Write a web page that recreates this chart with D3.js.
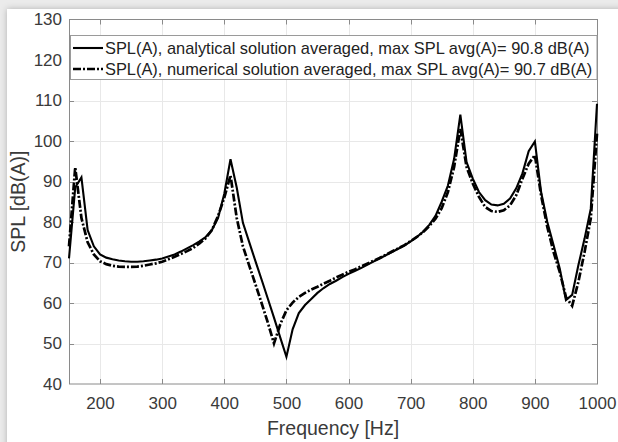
<!DOCTYPE html>
<html>
<head>
<meta charset="utf-8">
<script src="https://cdn.jsdelivr.net/npm/d3@7"></script>
<style>
  html, body { margin: 0; padding: 0; background: #eeeeee; }
  svg { display: block; }
</style>
</head>
<body>
<svg id="chart"></svg>
<script>
// Frequency axis samples [Hz]
const freqs = [
  150, 160, 170, 180, 190, 200, 210, 220, 230, 240,
  250, 260, 270, 280, 290, 300, 310, 320, 330, 340,
  350, 360, 370, 380, 390, 400, 410, 420, 430, 440,
  450, 460, 470, 480, 490, 500, 510, 520, 530, 540,
  550, 560, 570, 580, 590, 600, 610, 620, 630, 640,
  650, 660, 670, 680, 690, 700, 710, 720, 730, 740,
  750, 760, 770, 780, 790, 800, 810, 820, 830, 840,
  850, 860, 870, 880, 890, 900, 910, 920, 930, 940,
  950, 960, 970, 980, 990, 1000
];

// SPL(A), analytical solution averaged [dB(A)]
const splAnalytical = [
  71.0, 88.5, 91.0, 78.0, 74.0, 72.0, 71.2, 70.8, 70.5, 70.3,
  70.2, 70.2, 70.3, 70.5, 70.7, 71.0, 71.5, 72.0, 72.7, 73.5,
  74.3, 75.2, 76.3, 78.0, 81.0, 87.0, 95.5, 88.5, 79.8, 75.1,
  70.4, 65.8, 61.1, 56.4, 51.5, 46.7, 53.5, 57.5, 59.5, 61.0,
  62.5, 63.7, 64.7, 65.5, 66.4, 67.2, 67.9, 68.6, 69.4, 70.2,
  71.0, 71.8, 72.6, 73.4, 74.2, 75.2, 76.3, 77.6, 79.3, 81.5,
  85.0, 89.0, 95.6, 106.5, 94.8, 90.7, 87.4, 85.4, 84.3, 84.1,
  84.5, 85.8, 88.3, 92.0, 97.5, 99.9, 87.4, 80.0, 74.3, 68.5,
  60.7, 62.0, 69.3, 75.9, 83.3, 109.2
];

// SPL(A), numerical solution averaged [dB(A)]
const splNumerical = [
  74.0, 93.5, 81.0, 75.0, 72.0, 70.3, 69.6, 69.2, 69.0, 68.9,
  68.9, 69.0, 69.2, 69.5, 69.8, 70.2, 70.8, 71.4, 72.1, 72.8,
  73.6, 74.7, 76.0, 78.0, 81.5, 86.0, 91.5, 81.0, 74.0, 69.3,
  64.7, 60.0, 55.2, 50.0, 54.7, 58.2, 60.1, 61.5, 62.5, 63.3,
  64.0, 64.8, 65.5, 66.3, 67.0, 67.7, 68.3, 69.0, 69.7, 70.4,
  71.1, 71.9, 72.7, 73.5, 74.3, 75.3, 76.3, 77.5, 79.0, 80.8,
  83.4, 87.4, 93.6, 103.0, 93.6, 89.5, 86.2, 83.7, 82.7, 82.5,
  82.9, 84.1, 86.6, 90.7, 94.4, 96.5, 86.6, 78.8, 72.6, 67.7,
  61.5, 59.3, 65.2, 72.6, 80.9, 101.8
];

const xTicks = [200, 300, 400, 500, 600, 700, 800, 900, 1000];
const yTicks = [40, 50, 60, 70, 80, 90, 100, 110, 120, 130];

const legendLabels = [
  "SPL(A), analytical solution averaged, max SPL avg(A)= 90.8 dB(A)",
  "SPL(A), numerical solution averaged, max SPL avg(A)= 90.7 dB(A)"
];

const width = 618;
const height = 442;
const marginLeft = 69;
const marginRight = 21;
const marginTop = 19.5;
const marginBottom = 58;
const font = "'Liberation Sans', Arial, Helvetica, sans-serif";
const textColor = "#3a3a3a";
const axisColor = "#8a8a8a";
const gridColor = "#e8e8e8";

const x = d3.scaleLinear()
  .domain([150, 1000])
  .range([marginLeft, width - marginRight]);

const y = d3.scaleLinear()
  .domain([40, 130])
  .range([height - marginBottom, marginTop]);

const svg = d3.select("#chart")
  .attr("width", width)
  .attr("height", height)
  .attr("viewBox", [0, 0, width, height])
  .style("font-family", font);

// card with a soft shadow on its top / left edge
const defs = svg.append("defs");
const shadow = defs.append("filter")
  .attr("id", "shadow")
  .attr("x", "-5%").attr("y", "-5%")
  .attr("width", "110%").attr("height", "110%");
shadow.append("feDropShadow")
  .attr("dx", 0).attr("dy", 0)
  .attr("stdDeviation", 3)
  .attr("flood-color", "#000")
  .attr("flood-opacity", 0.25);

svg.append("rect")
  .attr("width", width).attr("height", height)
  .attr("fill", "#ebebeb");
svg.append("rect")
  .attr("x", 7).attr("y", 9)
  .attr("width", width + 20).attr("height", height + 20)
  .attr("fill", "#ffffff")
  .attr("filter", "url(#shadow)");

const x0 = x.range()[0], x1 = x.range()[1];
const y0 = y.range()[0], y1 = y.range()[1];

// grid
svg.append("g")
  .attr("stroke", gridColor)
  .attr("stroke-width", 1)
  .call((g) => g.selectAll("line.v")
    .data(xTicks.filter((d) => d < 1000))
    .join("line")
    .attr("class", "v")
    .attr("x1", (d) => Math.round(x(d)) + 0.5)
    .attr("x2", (d) => Math.round(x(d)) + 0.5)
    .attr("y1", y1).attr("y2", y0))
  .call((g) => g.selectAll("line.h")
    .data(yTicks.filter((d) => d > 40 && d < 130))
    .join("line")
    .attr("class", "h")
    .attr("x1", x0).attr("x2", x1)
    .attr("y1", (d) => Math.round(y(d)) + 0.5)
    .attr("y2", (d) => Math.round(y(d)) + 0.5));

// axes (labels only, ticks drawn inward below)
svg.append("g")
  .attr("transform", `translate(0,${y0})`)
  .call(d3.axisBottom(x).tickValues(xTicks).tickSize(0).tickPadding(13).tickFormat(d3.format("d")))
  .call((g) => g.select(".domain").remove())
  .call((g) => g.selectAll("text")
    .attr("fill", textColor)
    .style("font-size", "17px")
    .style("font-family", font));

svg.append("g")
  .attr("transform", `translate(${x0},0)`)
  .call(d3.axisLeft(y).tickValues(yTicks).tickSize(0).tickPadding(7).tickFormat(d3.format("d")))
  .call((g) => g.select(".domain").remove())
  .call((g) => g.selectAll("text")
    .attr("fill", textColor)
    .style("font-size", "17px")
    .style("font-family", font));

// box + inward ticks
const box = svg.append("g")
  .attr("stroke", axisColor)
  .attr("stroke-width", 1)
  .attr("fill", "none");
box.append("rect")
  .attr("x", x0 + 0.5).attr("y", y1)
  .attr("width", x1 - x0).attr("height", y0 - y1);
const tickLen = 5;
box.selectAll("line.xb")
  .data(xTicks.filter((d) => d < 1000))
  .join("line")
  .attr("x1", (d) => Math.round(x(d)) + 0.5).attr("x2", (d) => Math.round(x(d)) + 0.5)
  .attr("y1", y0).attr("y2", y0 - tickLen);
box.selectAll("line.xt")
  .data(xTicks.filter((d) => d < 1000))
  .join("line")
  .attr("class", "xt")
  .attr("x1", (d) => Math.round(x(d)) + 0.5).attr("x2", (d) => Math.round(x(d)) + 0.5)
  .attr("y1", y1).attr("y2", y1 + tickLen);
box.selectAll("line.yl")
  .data(yTicks.filter((d) => d > 40 && d < 130))
  .join("line")
  .attr("class", "yl")
  .attr("x1", x0).attr("x2", x0 + tickLen)
  .attr("y1", (d) => Math.round(y(d)) + 0.5).attr("y2", (d) => Math.round(y(d)) + 0.5);
box.selectAll("line.yr")
  .data(yTicks.filter((d) => d > 40 && d < 130))
  .join("line")
  .attr("class", "yr")
  .attr("x1", x1).attr("x2", x1 - tickLen)
  .attr("y1", (d) => Math.round(y(d)) + 0.5).attr("y2", (d) => Math.round(y(d)) + 0.5);

// series
const series = [
  { name: legendLabels[0], values: splAnalytical, width: 2.1, dash: null },
  { name: legendLabels[1], values: splNumerical, width: 2.7, dash: "8,2,2,2" }
];

const line = d3.line()
  .x((d) => x(d[0]))
  .y((d) => y(d[1]));

svg.append("g")
  .attr("fill", "none")
  .attr("stroke", "#000")
  .attr("stroke-linejoin", "miter")
  .selectAll("path")
  .data(series)
  .join("path")
  .attr("stroke-width", (d) => d.width)
  .attr("stroke-dasharray", (d) => d.dash)
  .attr("d", (d) => line(d3.zip(freqs, d.values)));

// legend
const legend = svg.append("g");
legend.append("rect")
  .attr("x", x0 + 1.5).attr("y", 35.5)
  .attr("width", x1 - x0 - 1.5).attr("height", 44)
  .attr("fill", "#fff")
  .attr("stroke", "#9a9a9a");
const rows = legend.selectAll("g")
  .data(series)
  .join("g")
  .attr("transform", (d, i) => `translate(0,${48 + i * 21})`);
rows.append("line")
  .attr("x1", 73).attr("x2", 103)
  .attr("y1", 0).attr("y2", 0)
  .attr("stroke", "#000")
  .attr("stroke-width", (d) => d.width)
  .attr("stroke-dasharray", (d) => d.dash);
rows.append("text")
  .attr("x", 105)
  .attr("dy", "0.36em")
  .attr("fill", "#222")
  .style("font-size", "16.4px")
  .text((d) => d.name);

// axis titles
svg.append("text")
  .attr("x", (x0 + x1) / 2)
  .attr("y", 435)
  .attr("text-anchor", "middle")
  .attr("fill", textColor)
  .style("font-size", "19.5px")
  .text("Frequency [Hz]");

svg.append("text")
  .attr("transform", `translate(25,${(y0 + y1) / 2}) rotate(-90)`)
  .attr("text-anchor", "middle")
  .attr("fill", textColor)
  .style("font-size", "19.5px")
  .text("SPL [dB(A)]");
</script>
</body>
</html>
